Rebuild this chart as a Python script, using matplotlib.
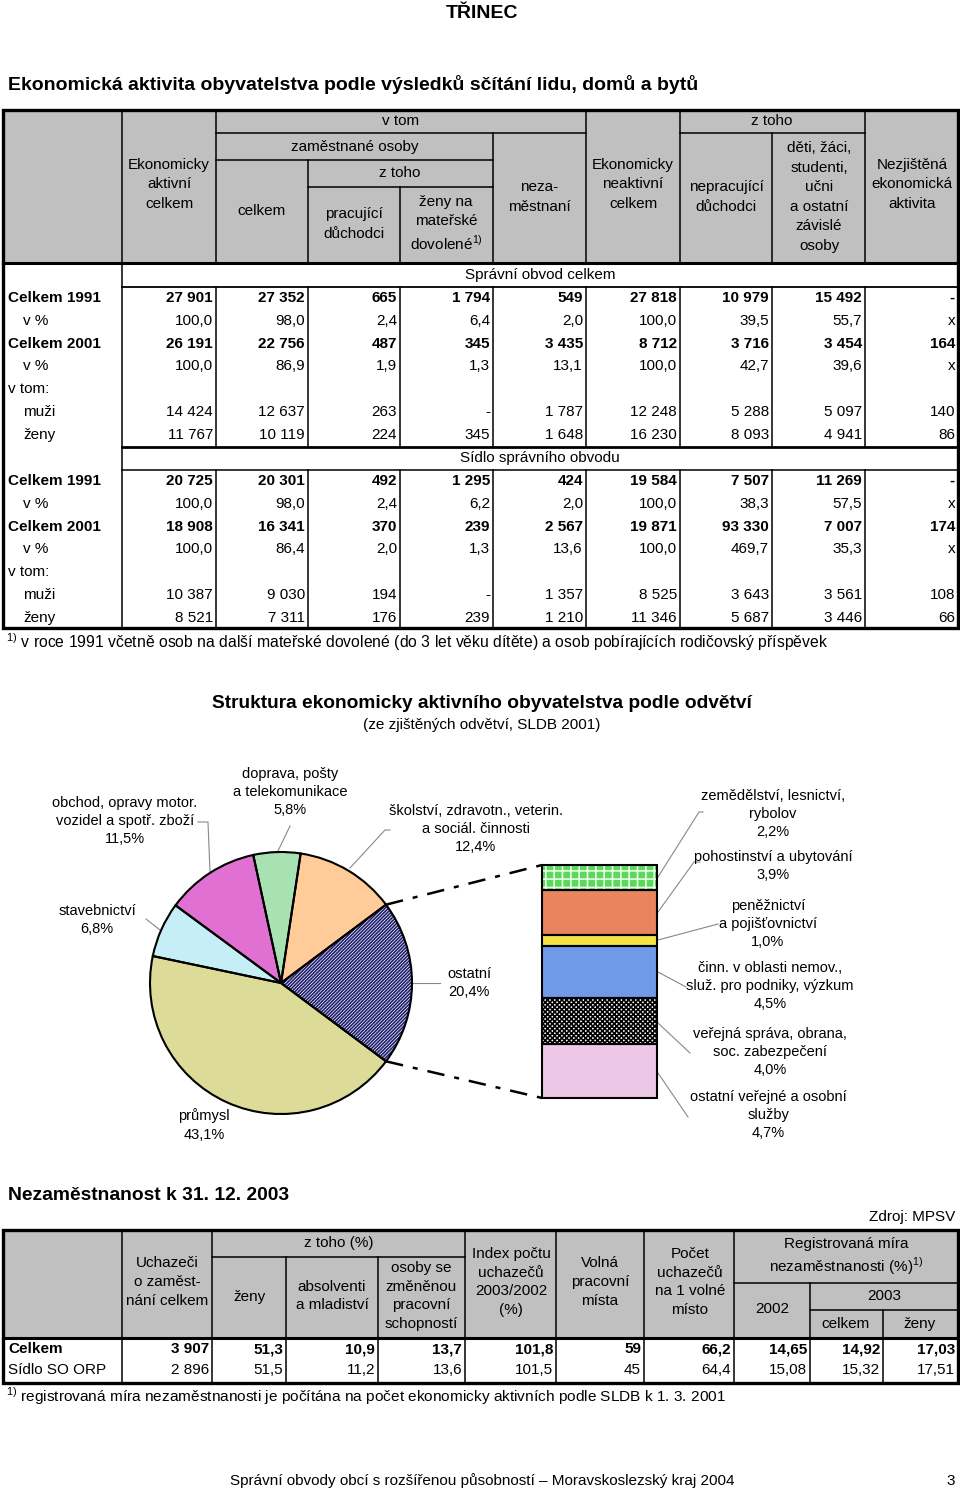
import matplotlib
matplotlib.use("Agg")
import math
import matplotlib.pyplot as plt
from matplotlib.patches import Rectangle

plt.rcParams['font.family'] = ['Liberation Sans', 'DejaVu Sans']
plt.rcParams['mathtext.fontset'] = 'custom'
plt.rcParams['mathtext.rm'] = 'Liberation Sans'
plt.rcParams['hatch.linewidth'] = 1.2

# ---- data ----
radky = ["Celkem 1991", "v %", "Celkem 2001", "v %", "v tom:", "muži", "ženy"]
obvod_celkem = [
    ["27 901", "27 352", "665", "1 794", "549", "27 818", "10 979", "15 492", "-"],
    ["100,0", "98,0", "2,4", "6,4", "2,0", "100,0", "39,5", "55,7", "x"],
    ["26 191", "22 756", "487", "345", "3 435", "8 712", "3 716", "3 454", "164"],
    ["100,0", "86,9", "1,9", "1,3", "13,1", "100,0", "42,7", "39,6", "x"],
    [],
    ["14 424", "12 637", "263", "-", "1 787", "12 248", "5 288", "5 097", "140"],
    ["11 767", "10 119", "224", "345", "1 648", "16 230", "8 093", "4 941", "86"],
]
sidlo_obvodu = [
    ["20 725", "20 301", "492", "1 295", "424", "19 584", "7 507", "11 269", "-"],
    ["100,0", "98,0", "2,4", "6,2", "2,0", "100,0", "38,3", "57,5", "x"],
    ["18 908", "16 341", "370", "239", "2 567", "19 871", "93 330", "7 007", "174"],
    ["100,0", "86,4", "2,0", "1,3", "13,6", "100,0", "469,7", "35,3", "x"],
    [],
    ["10 387", "9 030", "194", "-", "1 357", "8 525", "3 643", "3 561", "108"],
    ["8 521", "7 311", "176", "239", "1 210", "11 346", "5 687", "3 446", "66"],
]

odvetvi = ["ostatní",
           "školství, zdravotn., veterin.\na sociál. činnosti",
           "doprava, pošty\na telekomunikace",
           "obchod, opravy motor.\nvozidel a spotř. zboží",
           "stavebnictví",
           "průmysl"]
podil = [20.4, 12.4, 5.8, 11.5, 6.8, 43.1]
barvy_kolac = ["white", "#ffcc99", "#a8e2b2", "#e070d2", "#c6eef6", "#dcdc98"]

ostatni_odvetvi = ["zemědělství, lesnictví,\nrybolov",
                   "pohostinství a ubytování",
                   "peněžnictví\na pojišťovnictví",
                   "činn. v oblasti nemov.,\nsluž. pro podniky, výzkum",
                   "veřejná správa, obrana,\nsoc. zabezpečení",
                   "ostatní veřejné a osobní\nslužby"]
ostatni_podil = [2.2, 3.9, 1.0, 4.5, 4.0, 4.7]
barvy_sloupec = ["#5cd85c", "#e8845e", "#f6e444", "#709ae8", "#5a5a5a", "#ecc8e6"]

nez_radky = ["Celkem", "Sídlo SO ORP"]
nezamestnanost = [
    ["3 907", "51,3", "10,9", "13,7", "101,8", "59", "66,2", "14,65", "14,92", "17,03"],
    ["2 896", "51,5", "11,2", "13,6", "101,5", "45", "64,4", "15,08", "15,32", "17,51"],
]

W, H = 960, 1490
GRAY = "#c0c0c0"
fig = plt.figure(figsize=(9.6, 14.9), dpi=100)
ax = fig.add_axes([0, 0, 1, 1])
ax.set_xlim(0, W)
ax.set_ylim(H, 0)
ax.axis('off')


def hl(y, x0, x1, lw=1.1):
    ax.plot([x0, x1], [y, y], color='black', lw=lw, solid_capstyle='projecting')


def vl(x, y0, y1, lw=1.1):
    ax.plot([x, x], [y0, y1], color='black', lw=lw, solid_capstyle='projecting')


def txt(x, y, s, ha='center', bold=False, size=11, ls=1.5):
    ax.text(x, y, s, ha=ha, va='center', fontsize=size, linespacing=ls,
            fontweight='bold' if bold else 'normal', multialignment='center')


# ---- titles ----
txt(482, 13, "TŘINEC", bold=True, size=14)
txt(8, 84, "Ekonomická aktivita obyvatelstva podle výsledků sčítání lidu, domů a bytů",
    ha='left', bold=True, size=14)

# ---- table 1 ----
L, R, T, B = 3, 958, 110, 628
ax.add_patch(Rectangle((L, T), R - L, 263 - T, color=GRAY, zorder=0))
cols = [216, 308, 400, 493, 586, 680, 772, 865, R]
vl(122, T, B)
vl(216, T, 263)
hl(133, 216, 586)
hl(133, 680, 865)
hl(160, 216, 493)
vl(493, 133, 263)
for x in (586, 680, 865):
    vl(x, T, 263)
hl(187, 308, 493)
vl(308, 160, 263)
vl(400, 187, 263)
vl(772, 133, 263)
hl(263, L, R, lw=2.2)
hl(287, 122, R, lw=1.3)
hl(447, 122, R, lw=2.0)
hl(470, 122, R, lw=1.1)
for x in cols[:-1]:
    vl(x, 287, 447)
    vl(x, 470, B)
ax.add_patch(Rectangle((L, T), R - L, B - T, fill=False, lw=2.4, zorder=3))

txt(401, 121, "v tom")
txt(354.5, 147, "zaměstnané osoby")
txt(400, 173, "z toho")
txt(262, 211, "celkem")
txt(354, 224, "pracující\ndůchodci")
txt(446, 224, "ženy na\nmateřské\ndovolené$^{1)}$", ls=1.4)
txt(539, 197, "neza-\nměstnaní")
txt(169, 184, "Ekonomicky\naktivní\ncelkem")
txt(633, 184, "Ekonomicky\nneaktivní\ncelkem")
txt(772, 121, "z toho")
txt(726, 197, "nepracující\ndůchodci")
txt(819, 197, "děti, žáci,\nstudenti,\nučni\na ostatní\nzávislé\nosoby")
txt(912, 184, "Nezjištěná\nekonomická\naktivita")
txt(540, 275, "Správní obvod celkem")
txt(540, 458, "Sídlo správního obvodu")

for y0, blok in ((298, obvod_celkem), (481, sidlo_obvodu)):
    for i, (nazev, hodnoty) in enumerate(zip(radky, blok)):
        y = y0 + i * 22.8
        tucne = nazev.startswith("Celkem")
        odsaz = 23 if nazev in ("v %", "muži", "ženy") else 8
        txt(odsaz, y, nazev, ha='left', bold=tucne)
        for x, h in zip(cols, hodnoty):
            txt(x - 3, y, h, ha='right', bold=tucne)

txt(6, 642, "$^{1)}$ v roce 1991 včetně osob na další mateřské dovolené (do 3 let věku dítěte) "
    "a osob pobírajících rodičovský příspěvek", ha='left', size=11.3)

# ---- pie + bar ----
txt(482, 703, "Struktura ekonomicky aktivního obyvatelstva podle odvětví", bold=True, size=13.8)
txt(482, 725, "(ze zjištěných odvětví, SLDB 2001)", size=11)

cx, cy, r = 281, 983, 131
pad = 4
pax = fig.add_axes([(cx - r - pad) / W, 1 - (cy + r + pad) / H, 2 * (r + pad) / W, 2 * (r + pad) / H])
start = -podil[0] * 3.6 / 2
klin, _ = pax.pie(podil, colors=barvy_kolac, startangle=start, counterclock=True,
                  wedgeprops=dict(linewidth=0))
klin[0].set_hatch('//////////')
klin[0].set_edgecolor('#1e1e6e')
pax.pie(podil, startangle=start, counterclock=True,
        wedgeprops=dict(fill=False, edgecolor='black', linewidth=1.5))
lim = (r + pad) / r
pax.set_xlim(-lim, lim)
pax.set_ylim(-lim, lim)
pax.axis('off')

bx0, bx1, by0, by1 = 542, 657, 865, 1098
bax = fig.add_axes([bx0 / W, 1 - by1 / H, (bx1 - bx0) / W, (by1 - by0) / H])
spodky = [sum(ostatni_podil[:i]) for i in range(len(ostatni_podil))]
sl = bax.bar([0] * 6, ostatni_podil, bottom=spodky, width=1, color=barvy_sloupec, linewidth=0)
sl[0].set_hatch('++')
sl[0].set_edgecolor('#e8ffe8')
sl[4].set_facecolor('white')
sl[4].set_hatch('xxxxxxx')
sl[4].set_edgecolor('black')
bax.bar([0] * 6, ostatni_podil, bottom=spodky, width=1, fill=False,
        edgecolor='black', linewidth=1.5, clip_on=False)
bax.set_xlim(-0.5, 0.5)
bax.set_ylim(sum(ostatni_podil), 0)
bax.axis('off')

# connectors pie -> bar
for uhel, by in ((start + podil[0] * 3.6, by0), (start, by1)):
    px = cx + r * math.cos(math.radians(uhel))
    py = cy - r * math.sin(math.radians(uhel))
    ax.plot([px, bx0], [py, by], color='black', lw=1.8, linestyle=(0, (7, 4, 2, 4)))


def pct(v):
    return f"{v:.1f}%".replace('.', ',')


kolac_popisky = [(469, 983), (476, 829), (290, 792), (125, 821), (97, 920), (204, 1125)]
for nazev, v, (x, y) in zip(odvetvi, podil, kolac_popisky):
    txt(x, y, nazev + "\n" + pct(v), size=10.5, ls=1.4)

sloupec_popisky = [(773, 814), (773, 866), (768, 924), (770, 986), (770, 1052), (768, 1115)]
for nazev, v, (x, y) in zip(ostatni_odvetvi, ostatni_podil, sloupec_popisky):
    txt(x, y, nazev + "\n" + pct(v), size=10.5, ls=1.4)

vodice = [
    [(198, 822), (208, 822), (210, 872)],
    [(290, 826), (277, 853)],
    [(390, 830), (385, 830), (350, 868)],
    [(146, 919), (160, 930)],
    [(412, 983), (440, 983)],
    [(703, 812), (699, 812), (658, 877)],
    [(700, 862), (694, 862), (658, 912)],
    [(718, 924), (658, 940)],
    [(658, 972), (686, 987)],
    [(658, 1023), (690, 1053)],
    [(658, 1073), (688, 1117)],
]
for v in vodice:
    ax.plot([p[0] for p in v], [p[1] for p in v], color='#888888', lw=0.8)

# ---- table 3 ----
txt(8, 1195, "Nezaměstnanost k 31. 12. 2003", ha='left', bold=True, size=13.9)
txt(955, 1217, "Zdroj: MPSV", ha='right')
T3, B3, HB = 1230, 1383, 1338
ax.add_patch(Rectangle((L, T3), R - L, HB - T3, color=GRAY, zorder=0))
cols3 = [212, 286, 378, 465, 556, 644, 734, 810, 883, R]
for x in (122, 212, 465, 556, 644, 734):
    vl(x, T3, B3)
for x in (286, 378):
    vl(x, 1257, B3)
vl(810, 1283, B3)
vl(883, 1310, B3)
hl(1257, 212, 465)
hl(1283, 734, R)
hl(1310, 810, R)
hl(HB, L, R, lw=2.2)
ax.add_patch(Rectangle((L, T3), R - L, B3 - T3, fill=False, lw=2.4, zorder=3))

txt(167, 1282, "Uchazeči\no zaměst-\nnání celkem", ls=1.45)
txt(339, 1243, "z toho (%)")
txt(249, 1297, "ženy")
txt(332, 1296, "absolventi\na mladiství", ls=1.45)
txt(421, 1296, "osoby se\nzměněnou\npracovní\nschopností", ls=1.45)
txt(511, 1282, "Index počtu\nuchazečů\n2003/2002\n(%)", ls=1.45)
txt(600, 1282, "Volná\npracovní\nmísta", ls=1.45)
txt(690, 1282, "Počet\nuchazečů\nna 1 volné\nmísto", ls=1.45)
txt(846, 1257, "Registrovaná míra\nnezaměstnanosti (%)$^{1)}$", ls=1.3)
txt(772, 1309, "2002")
txt(884, 1296, "2003")
txt(846, 1324, "celkem")
txt(920, 1324, "ženy")

for i, (nazev, hodnoty) in enumerate(zip(nez_radky, nezamestnanost)):
    y = 1349 + i * 21
    tucne = i == 0
    txt(8, y, nazev, ha='left', bold=tucne)
    for x, h in zip(cols3, hodnoty):
        txt(x - 3, y, h, ha='right', bold=tucne)

txt(6, 1396, "$^{1)}$ registrovaná míra nezaměstnanosti je počítána na počet ekonomicky aktivních "
    "podle SLDB k 1. 3. 2001", ha='left', size=11.1)

txt(482, 1481, "Správní obvody obcí s rozšířenou působností – Moravskoslezský kraj 2004")
txt(955, 1481, "3", ha='right')

fig.savefig("out.png", dpi=100)
